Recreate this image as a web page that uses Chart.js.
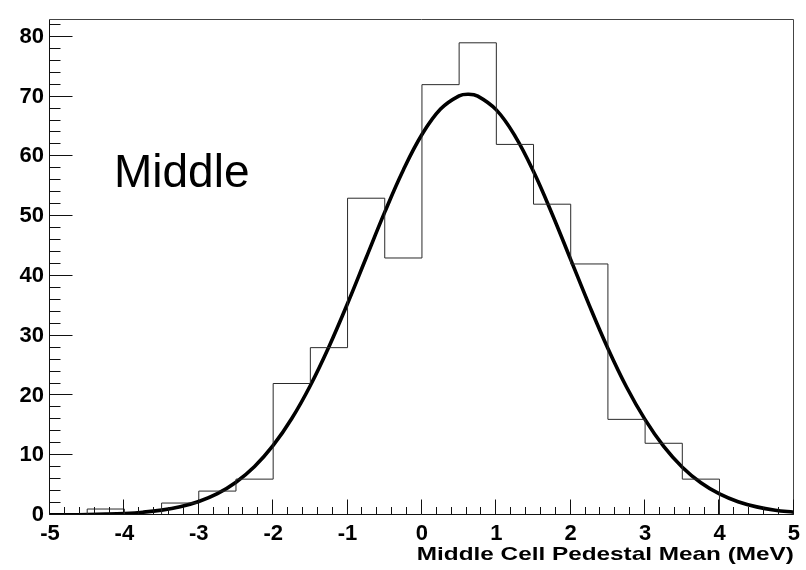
<!DOCTYPE html>
<html>
<head>
<meta charset="utf-8">
<title>Middle Cell Pedestal Mean</title>
<script src="https://cdn.jsdelivr.net/npm/chart.js@4/dist/chart.umd.min.js"></script>
<style>
  html, body { margin: 0; padding: 0; background: #fff; }
  #wrap { width: 806px; height: 570px; }
</style>
</head>
<body>
<div id="wrap"><canvas id="c" width="806" height="570"></canvas></div>
<script>
// Histogram bin edges (MeV) and entries per 0.5 MeV bin
const binEdges = [-5, -4.5, -4, -3.5, -3, -2.5, -2, -1.5, -1, -0.5, 0, 0.5, 1, 1.5, 2, 2.5, 3, 3.5, 4, 4.5, 5];
const binCounts = [0, 1, 0, 2, 4, 6, 22, 28, 53, 43, 72, 79, 62, 52, 42, 16, 12, 6, 0, 0];

// Gaussian fit curve, sampled along the axis
const fitX = [-5, -4.75, -4.5, -4.25, -4, -3.75, -3.5, -3.25, -3, -2.75, -2.5, -2.25, -2, -1.75, -1.5, -1.25, -1,
              -0.75, -0.5, -0.25, 0, 0.25, 0.5, 0.625, 0.75, 1, 1.25, 1.5, 1.75, 2, 2.25, 2.5, 2.75, 3, 3.25, 3.5,
              3.75, 4, 4.25, 4.5, 4.75, 5];
const fitY = [0.02, 0.04, 0.07, 0.14, 0.26, 0.47, 0.82, 1.39, 2.27, 3.58, 5.49, 8.12, 11.64, 16.14, 21.67, 28.15, 35.38,
              43.04, 50.67, 57.73, 63.65, 67.92, 70.13, 70.40, 70.09, 67.78, 63.44, 57.47, 50.37, 42.73, 35.08, 27.87, 21.42, 15.95, 11.48, 8.00,
              5.39, 3.52, 2.22, 1.36, 0.80, 0.46];

// Axis tick labels
const xTickLabels = [-5, -4, -3, -2, -1, 0, 1, 2, 3, 4, 5];
const yTickLabels = [0, 10, 20, 30, 40, 50, 60, 70, 80];
const yMax = 82.95;

const axisTitle = 'Middle Cell Pedestal Mean (MeV)';
const panelLabel = 'Middle';

const FONT = "'Liberation Sans', Arial, Helvetica, sans-serif";

// one point per bin edge; each bin's level runs from its lower edge to the next edge
const histPoints = binEdges.map((x, i) => ({ x: x, y: i < binCounts.length ? binCounts[i] : binCounts[binCounts.length - 1] }));
const fitPoints = fitX.map((x, i) => ({ x: x, y: fitY[i] }));

// White page, inward ticks, frame and free text
const framePlugin = {
  id: 'frame',
  beforeDraw(chart) {
    const ctx = chart.ctx;
    ctx.save();
    ctx.fillStyle = '#fff';
    ctx.fillRect(0, 0, chart.width, chart.height);
    ctx.restore();
  },
  afterDraw(chart) {
    const ctx = chart.ctx;
    const ca = chart.chartArea;
    const xs = chart.scales.x;
    const ys = chart.scales.y;
    const L = Math.round(ca.left) - 0.5;
    const B = Math.round(ca.bottom) - 0.5;
    const T = Math.round(ca.top) + 0.5;
    const R = Math.round(ca.right) - 0.5;
    ctx.save();
    // top and right frame
    ctx.strokeStyle = '#444';
    ctx.lineWidth = 1;
    ctx.beginPath();
    ctx.moveTo(L, T); ctx.lineTo(R, T); ctx.lineTo(R, B);
    ctx.stroke();
    // axes
    ctx.strokeStyle = '#111';
    ctx.beginPath();
    ctx.moveTo(L, T); ctx.lineTo(L, B); ctx.lineTo(R, B);
    ctx.stroke();
    // y ticks, pointing into the plot
    ctx.beginPath();
    for (let k = 0; k <= 41; k++) {
      const v = k * 2;
      if (v > yMax) break;
      const y = Math.round(ys.getPixelForValue(v)) - 0.5;
      const len = (v % 10 === 0) ? 23 : 11;
      ctx.moveTo(L, y); ctx.lineTo(L + len, y);
    }
    // x ticks
    for (let k = -25; k <= 25; k++) {
      const v = k * 0.2;
      const x = Math.round(xs.getPixelForValue(v)) - 0.5;
      const len = (k % 5 === 0) ? 15 : 7.5;
      ctx.moveTo(x, B); ctx.lineTo(x, B - len);
    }
    ctx.stroke();

    // axis title, right aligned under the x axis
    ctx.fillStyle = '#000';
    ctx.font = 'bold 19px ' + FONT;
    ctx.textAlign = 'right';
    ctx.textBaseline = 'alphabetic';
    ctx.translate(ca.right, 560);
    ctx.scale(1.28, 1);
    ctx.fillText(axisTitle, 0, 0);
    ctx.restore();

    // panel label
    ctx.save();
    ctx.fillStyle = '#000';
    ctx.font = '46px ' + FONT;
    ctx.textAlign = 'left';
    ctx.textBaseline = 'alphabetic';
    ctx.fillText(panelLabel, 114, 187);
    ctx.restore();
  }
};

new Chart(document.getElementById('c'), {
  type: 'line',
  data: {
    datasets: [
      {
        label: 'entries',
        data: histPoints,
        stepped: 'before',
        borderColor: '#2a2a2a',
        borderWidth: 1,
        pointRadius: 0,
        fill: false
      },
      {
        label: 'fit',
        data: fitPoints,
        borderColor: '#000',
        borderWidth: 3.6,
        pointRadius: 0,
        tension: 0.4,
        fill: false
      }
    ]
  },
  options: {
    responsive: false,
    animation: false,
    devicePixelRatio: 1,
    layout: { padding: { top: 7.5, right: 8, left: 0, bottom: 0 } },
    plugins: {
      legend: { display: false },
      tooltip: { enabled: false }
    },
    scales: {
      x: {
        type: 'linear',
        min: -5,
        max: 5,
        afterBuildTicks: (s) => { s.ticks = xTickLabels.map(v => ({ value: v })); },
        afterFit: (s) => { s.height = 55; },
        grid: { display: false, drawTicks: false },
        border: { display: false },
        ticks: {
          autoSkip: false,
          maxRotation: 0,
          minRotation: 0,
          padding: 6,
          color: '#000',
          font: { family: FONT, size: 22, weight: 'bold' },
          callback: (v) => String(v)
        }
      },
      y: {
        type: 'linear',
        min: 0,
        max: yMax,
        afterBuildTicks: (s) => { s.ticks = yTickLabels.map(v => ({ value: v })); },
        afterFit: (s) => { s.width = 50; },
        grid: { display: false, drawTicks: false },
        border: { display: false },
        ticks: {
          autoSkip: false,
          padding: 6,
          color: '#000',
          font: { family: FONT, size: 22, weight: 'bold' },
          callback: (v) => String(v)
        }
      }
    }
  },
  plugins: [framePlugin]
});
</script>
</body>
</html>
